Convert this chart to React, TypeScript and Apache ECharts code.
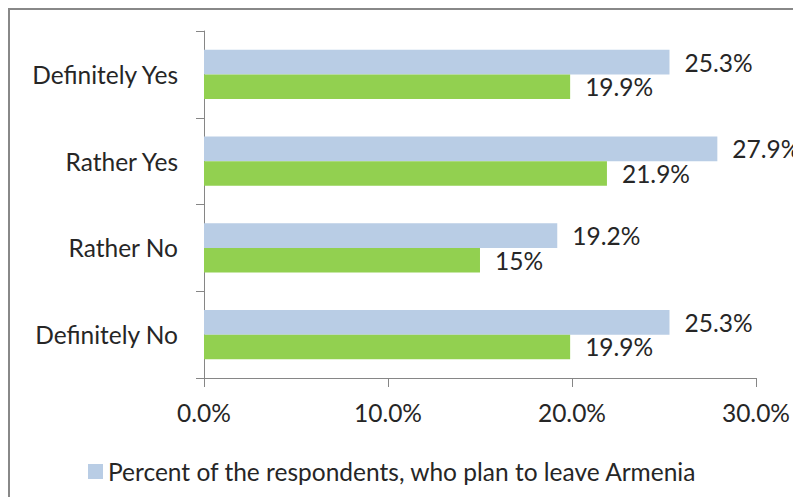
import React, { useEffect, useRef } from "react";
import * as echarts from "echarts";

const categories = ["Definitely Yes", "Rather Yes", "Rather No", "Definitely No"];
const planToLeave = [25.3, 27.9, 19.2, 25.3];
const secondSeries = [19.9, 21.9, 15, 19.9];
const xTicks = [0, 10, 20, 30];
const legendName = "Percent of the respondents, who plan to leave Armenia";

const FONT = "Lato";
const FS = 24.5;
const TEXT = "#262626";
const AXIS = "#868686";

export default function App() {
  const ref = useRef<HTMLDivElement>(null);
  useEffect(() => {
    if (!ref.current) return;
    const chart = echarts.init(ref.current, undefined, { renderer: "svg" });
    chart.setOption({
      animation: false,
      textStyle: { fontFamily: FONT },
      grid: { left: 204, right: 36, top: 31, bottom: 119, containLabel: false },
      legend: {
        data: [legendName],
        left: 83,
        top: 454,
        icon: "rect",
        itemWidth: 15,
        itemHeight: 15,
        itemGap: 10,
        textStyle: { fontFamily: FONT, fontSize: FS, color: TEXT },
      },
      xAxis: {
        type: "value",
        min: xTicks[0],
        max: xTicks[xTicks.length - 1],
        interval: 10,
        axisLine: { show: true, lineStyle: { color: AXIS, width: 1 } },
        axisTick: { show: true, length: 9, lineStyle: { color: AXIS } },
        splitLine: { show: false },
        axisLabel: {
          margin: 22,
          fontFamily: FONT,
          fontSize: FS,
          color: TEXT,
          formatter: (v: number) => v.toFixed(1) + "%",
        },
      },
      yAxis: {
        type: "category",
        data: categories,
        inverse: true,
        axisLine: { show: true, lineStyle: { color: AXIS, width: 1 } },
        axisTick: { show: true, length: 8, lineStyle: { color: AXIS } },
        axisLabel: { margin: 26, fontFamily: FONT, fontSize: FS, color: TEXT },
      },
      series: [
        {
          name: legendName,
          type: "bar",
          data: planToLeave,
          barGap: "0%",
          barCategoryGap: "43%",
          itemStyle: { color: "#b9cde5" },
          label: {
            show: true,
            position: "right",
            distance: 15,
            fontFamily: FONT,
            fontSize: FS,
            color: TEXT,
            formatter: (p: any) => p.value + "%",
          },
        },
        {
          name: "second",
          type: "bar",
          data: secondSeries,
          barGap: "0%",
          barCategoryGap: "43%",
          itemStyle: { color: "#92d050" },
          label: {
            show: true,
            position: "right",
            distance: 15,
            fontFamily: FONT,
            fontSize: FS,
            color: TEXT,
            formatter: (p: any) => p.value + "%",
          },
        },
      ],
      graphic: [
        {
          type: "rect",
          shape: { x: 9, y: 9, width: 800, height: 500 },
          style: { fill: "none", stroke: "#888888", lineWidth: 2 },
          silent: true,
        },
      ],
    });
    return () => chart.dispose();
  }, []);
  return (
    <div
      ref={ref}
      style={{ position: "absolute", left: 0, top: 0, width: 793, height: 497, background: "#fff" }}
    />
  );
}
